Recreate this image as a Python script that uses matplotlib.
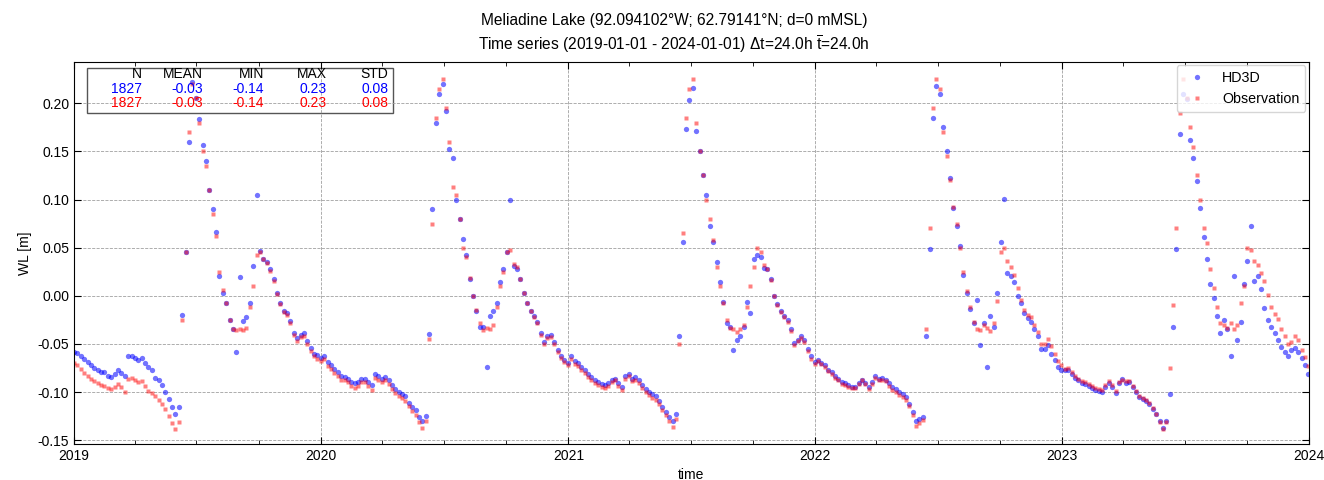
import numpy as np
import pandas as pd
import matplotlib
matplotlib.use('Agg')
import matplotlib.pyplot as plt
import matplotlib.dates as mdates
from matplotlib.patches import Rectangle

plt.rcParams['font.family'] = ['Liberation Sans', 'DejaVu Sans']
plt.rcParams['font.size'] = 10
plt.rcParams['mathtext.fontset'] = 'custom'
plt.rcParams['mathtext.rm'] = 'Liberation Sans'

# water level [m], one value every 5 days from 2019-01-01
hd3d_2019 = [-0.058, -0.059, -0.063, -0.066, -0.069, -0.072, -0.075, -0.077, -0.079, -0.079,
             -0.083, -0.084, -0.081, -0.077, -0.080, -0.083, -0.063, -0.063, -0.065, -0.067,
             -0.065, -0.070, -0.074, -0.077, -0.085, -0.088, -0.093, -0.100, -0.107, -0.116,
             -0.123, -0.116, -0.020, 0.045, 0.160, 0.222, 0.205, 0.184, 0.157, 0.140,
             0.110, 0.090, 0.066, 0.021, 0.003, -0.007, -0.025, -0.035, -0.058, 0.020,
             -0.026, -0.022, -0.008, 0.031, 0.105, 0.047, 0.038, 0.035, 0.028, 0.017,
             0.003, -0.007, -0.016, -0.018, -0.026, -0.039, -0.044, -0.041, -0.039, -0.047,
             -0.054, -0.060, -0.062]
obs_2019 = [-0.070, -0.072, -0.076, -0.080, -0.083, -0.086, -0.089, -0.091, -0.093, -0.094,
            -0.096, -0.097, -0.095, -0.092, -0.095, -0.100, -0.086, -0.085, -0.088, -0.090,
            -0.089, -0.094, -0.099, -0.101, -0.104, -0.108, -0.112, -0.118, -0.125, -0.132,
            -0.138, -0.131, -0.025, 0.045, 0.170, 0.220, 0.205, 0.180, 0.150, 0.135,
            0.110, 0.085, 0.062, 0.025, 0.006, -0.008, -0.025, -0.035, -0.036, -0.034,
            -0.036, -0.033, -0.012, 0.010, 0.042, 0.045, 0.038, 0.034, 0.026, 0.015,
            0.002, -0.009, -0.017, -0.020, -0.028, -0.041, -0.047, -0.043, -0.042, -0.050,
            -0.057, -0.063, -0.066]

hd3d_2020 = [-0.065, -0.063, -0.069, -0.072, -0.076, -0.079, -0.083, -0.084, -0.086, -0.090,
             -0.091, -0.090, -0.086, -0.086, -0.090, -0.093, -0.081, -0.083, -0.086, -0.084,
             -0.087, -0.093, -0.097, -0.100, -0.102, -0.104, -0.111, -0.116, -0.119, -0.126,
             -0.130, -0.125, -0.040, 0.090, 0.180, 0.210, 0.220, 0.192, 0.153, 0.143,
             0.100, 0.080, 0.059, 0.042, 0.017, 0.000, -0.016, -0.032, -0.032, -0.074,
             -0.021, -0.016, -0.007, 0.014, 0.028, 0.045, 0.100, 0.031, 0.028, 0.017,
             0.003, -0.007, -0.016, -0.021, -0.027, -0.039, -0.048, -0.042, -0.041, -0.048,
             -0.056, -0.063, -0.067, -0.070]
obs_2020 = [-0.068, -0.066, -0.073, -0.076, -0.080, -0.083, -0.087, -0.088, -0.090, -0.094,
            -0.096, -0.094, -0.090, -0.090, -0.094, -0.098, -0.085, -0.087, -0.090, -0.088,
            -0.092, -0.097, -0.101, -0.104, -0.106, -0.109, -0.115, -0.120, -0.124, -0.131,
            -0.137, -0.130, -0.045, 0.075, 0.185, 0.215, 0.225, 0.195, 0.160, 0.113,
            0.105, 0.080, 0.050, 0.040, 0.018, 0.000, -0.015, -0.028, -0.036, -0.033,
            -0.035, -0.030, -0.012, 0.010, 0.025, 0.045, 0.048, 0.033, 0.030, 0.017,
            0.003, -0.007, -0.016, -0.022, -0.028, -0.041, -0.050, -0.044, -0.043, -0.050,
            -0.058, -0.065, -0.069, -0.072]

hd3d_2021 = [-0.063, -0.068, -0.070, -0.074, -0.077, -0.081, -0.084, -0.088, -0.090, -0.092,
             -0.093, -0.091, -0.088, -0.086, -0.091, -0.095, -0.083, -0.081, -0.086, -0.084,
             -0.088, -0.093, -0.097, -0.100, -0.102, -0.104, -0.109, -0.116, -0.121, -0.126,
             -0.130, -0.123, -0.042, 0.056, 0.173, 0.203, 0.216, 0.171, 0.150, 0.126,
             0.105, 0.073, 0.056, 0.035, 0.014, -0.006, -0.028, -0.032, -0.056, -0.046,
             -0.042, -0.032, -0.006, -0.018, 0.038, 0.042, 0.040, 0.029, 0.028, 0.017,
             0.000, -0.009, -0.016, -0.021, -0.025, -0.035, -0.049, -0.046, -0.042, -0.046,
             -0.055, -0.063, -0.069]
obs_2021 = [-0.066, -0.071, -0.073, -0.077, -0.080, -0.084, -0.087, -0.091, -0.093, -0.095,
            -0.096, -0.094, -0.090, -0.088, -0.094, -0.098, -0.086, -0.083, -0.089, -0.087,
            -0.091, -0.096, -0.100, -0.103, -0.106, -0.108, -0.112, -0.119, -0.124, -0.130,
            -0.136, -0.128, -0.050, 0.065, 0.185, 0.215, 0.225, 0.180, 0.150, 0.125,
            0.100, 0.080, 0.058, 0.030, 0.010, -0.008, -0.025, -0.033, -0.035, -0.038,
            -0.035, -0.030, -0.012, 0.010, 0.030, 0.050, 0.045, 0.032, 0.028, 0.016,
            0.000, -0.010, -0.017, -0.022, -0.027, -0.037, -0.051, -0.047, -0.044, -0.048,
            -0.057, -0.066, -0.071]

hd3d_2022 = [-0.067, -0.070, -0.072, -0.077, -0.079, -0.083, -0.086, -0.090, -0.091, -0.093,
             -0.095, -0.095, -0.091, -0.087, -0.091, -0.095, -0.090, -0.083, -0.086, -0.085,
             -0.087, -0.091, -0.095, -0.097, -0.100, -0.102, -0.105, -0.112, -0.121, -0.130,
             -0.128, -0.126, -0.042, 0.049, 0.185, 0.218, 0.210, 0.175, 0.150, 0.122,
             0.091, 0.073, 0.052, 0.022, 0.003, -0.014, -0.028, -0.004, -0.051, -0.028,
             -0.074, -0.021, -0.032, 0.003, 0.056, 0.101, 0.024, 0.021, 0.014, 0.000,
             -0.007, -0.018, -0.023, -0.027, -0.035, -0.042, -0.055, -0.055, -0.051, -0.060,
             -0.067, -0.074, -0.077]
obs_2022 = [-0.068, -0.071, -0.074, -0.078, -0.081, -0.085, -0.088, -0.092, -0.093, -0.095,
            -0.096, -0.096, -0.092, -0.088, -0.092, -0.097, -0.092, -0.085, -0.088, -0.087,
            -0.089, -0.094, -0.098, -0.100, -0.103, -0.105, -0.108, -0.115, -0.124, -0.135,
            -0.132, -0.129, -0.035, 0.070, 0.195, 0.225, 0.215, 0.170, 0.145, 0.120,
            0.092, 0.075, 0.050, 0.025, 0.005, -0.012, -0.027, -0.034, -0.036, -0.030,
            -0.033, -0.037, -0.028, -0.005, 0.045, 0.050, 0.036, 0.030, 0.022, 0.008,
            -0.004, -0.015, -0.020, -0.022, -0.030, -0.038, -0.050, -0.050, -0.045, -0.052,
            -0.060, -0.068, -0.072]

hd3d_2023 = [-0.077, -0.077, -0.081, -0.085, -0.088, -0.091, -0.092, -0.094, -0.096, -0.098,
             -0.099, -0.100, -0.095, -0.091, -0.095, -0.101, -0.091, -0.086, -0.091, -0.090,
             -0.095, -0.100, -0.105, -0.107, -0.109, -0.112, -0.118, -0.123, -0.130, -0.137,
             -0.130, -0.102, -0.032, 0.049, 0.168, 0.210, 0.204, 0.162, 0.143, 0.119,
             0.091, 0.061, 0.038, 0.012, -0.002, -0.021, -0.039, -0.025, -0.035, -0.063,
             0.021, -0.046, -0.027, 0.012, 0.036, 0.072, 0.015, 0.021, 0.007, -0.013,
             -0.025, -0.032, -0.039, -0.046, -0.053, -0.058, -0.063, -0.056, -0.054, -0.058,
             -0.065, -0.072, -0.081]
obs_2023 = [-0.076, -0.075, -0.079, -0.083, -0.086, -0.089, -0.090, -0.092, -0.094, -0.096,
            -0.097, -0.098, -0.093, -0.089, -0.093, -0.099, -0.090, -0.087, -0.089, -0.089,
            -0.094, -0.099, -0.104, -0.106, -0.108, -0.111, -0.117, -0.123, -0.131, -0.138,
            -0.131, -0.075, -0.010, 0.070, 0.190, 0.225, 0.205, 0.175, 0.155, 0.125,
            0.100, 0.070, 0.055, 0.028, 0.008, -0.012, -0.028, -0.030, -0.033, -0.028,
            -0.034, -0.030, -0.008, 0.010, 0.050, 0.048, 0.036, 0.032, 0.024, 0.015,
            0.001, -0.012, -0.019, -0.024, -0.035, -0.042, -0.050, -0.048, -0.042, -0.046,
            -0.056, -0.064, -0.073]

# statistics box
stat_cols = ['N', 'MEAN', 'MIN', 'MAX', 'STD']
stat_hd3d = ['1827', '-0.03', '-0.14', '0.23', '0.08']
stat_obs = ['1827', '-0.03', '-0.14', '0.23', '0.08']

title1 = 'Meliadine Lake (92.094102\u00b0W; 62.79141\u00b0N; d=0 mMSL)'
title2 = 'Time series (2019-01-01 - 2024-01-01) \u0394t=24.0h $\\overline{\\mathrm{t}}$=24.0h'

hd3d = np.array(hd3d_2019 + hd3d_2020 + hd3d_2021 + hd3d_2022 + hd3d_2023)
obs = np.array(obs_2019 + obs_2020 + obs_2021 + obs_2022 + obs_2023)
dates = pd.date_range('2019-01-01', periods=len(hd3d), freq='5D')

fig = plt.figure(figsize=(13.24, 4.8), dpi=100)
ax = fig.add_axes([0.0559, 0.075, 0.9328, 0.796])

ax.plot(dates, hd3d, 'o', color='blue', ms=3.8, alpha=0.55, mec='none', label='HD3D')
ax.plot(dates, obs, 's', color='red', ms=2.8, alpha=0.5, mec='none', label='Observation')

ax.set_xlim(pd.Timestamp('2019-01-01'), pd.Timestamp('2024-01-01'))
ax.set_ylim(-0.154, 0.243)
ax.set_yticks(np.arange(-0.15, 0.21, 0.05))
ax.yaxis.set_major_formatter(plt.FormatStrFormatter('%.2f'))
ax.xaxis.set_major_locator(mdates.YearLocator())
ax.xaxis.set_minor_locator(mdates.MonthLocator(bymonth=[4, 7, 10]))
ax.xaxis.set_major_formatter(mdates.DateFormatter('%Y'))
ax.tick_params(which='both', direction='in', top=True, right=True)
ax.tick_params(which='major', length=5)
ax.tick_params(which='minor', length=3)
ax.grid(True, which='major', linestyle='--', color='#a0a0a0', linewidth=0.6)

ax.set_xlabel('time')
ax.set_ylabel('WL [m]')
fig.text(0.509, 0.958, title1, ha='center', va='center', fontsize=11.2)
fig.text(0.509, 0.908, title2, ha='center', va='center', fontsize=11.2)

ax.legend(loc='upper right', numpoints=1, fontsize=10.3, borderaxespad=0.25)

# stats table in the upper left corner
ax.add_patch(Rectangle((0.0105, 0.8665), 0.2478, 0.1178, transform=ax.transAxes,
                       facecolor='white', alpha=0.3, edgecolor='none'))
ax.add_patch(Rectangle((0.0105, 0.8665), 0.2478, 0.1178, transform=ax.transAxes,
                       facecolor='none', edgecolor='#555555', linewidth=1))
col_x = [0.0551, 0.1045, 0.1538, 0.2049, 0.2543]
for i in range(len(stat_cols)):
    ax.text(col_x[i], 0.9686, stat_cols[i], transform=ax.transAxes, ha='right', va='center', color='black')
    ax.text(col_x[i], 0.9293, stat_hd3d[i], transform=ax.transAxes, ha='right', va='center', color='blue')
    ax.text(col_x[i], 0.8927, stat_obs[i], transform=ax.transAxes, ha='right', va='center', color='red')

fig.savefig('out.png', dpi=100)
